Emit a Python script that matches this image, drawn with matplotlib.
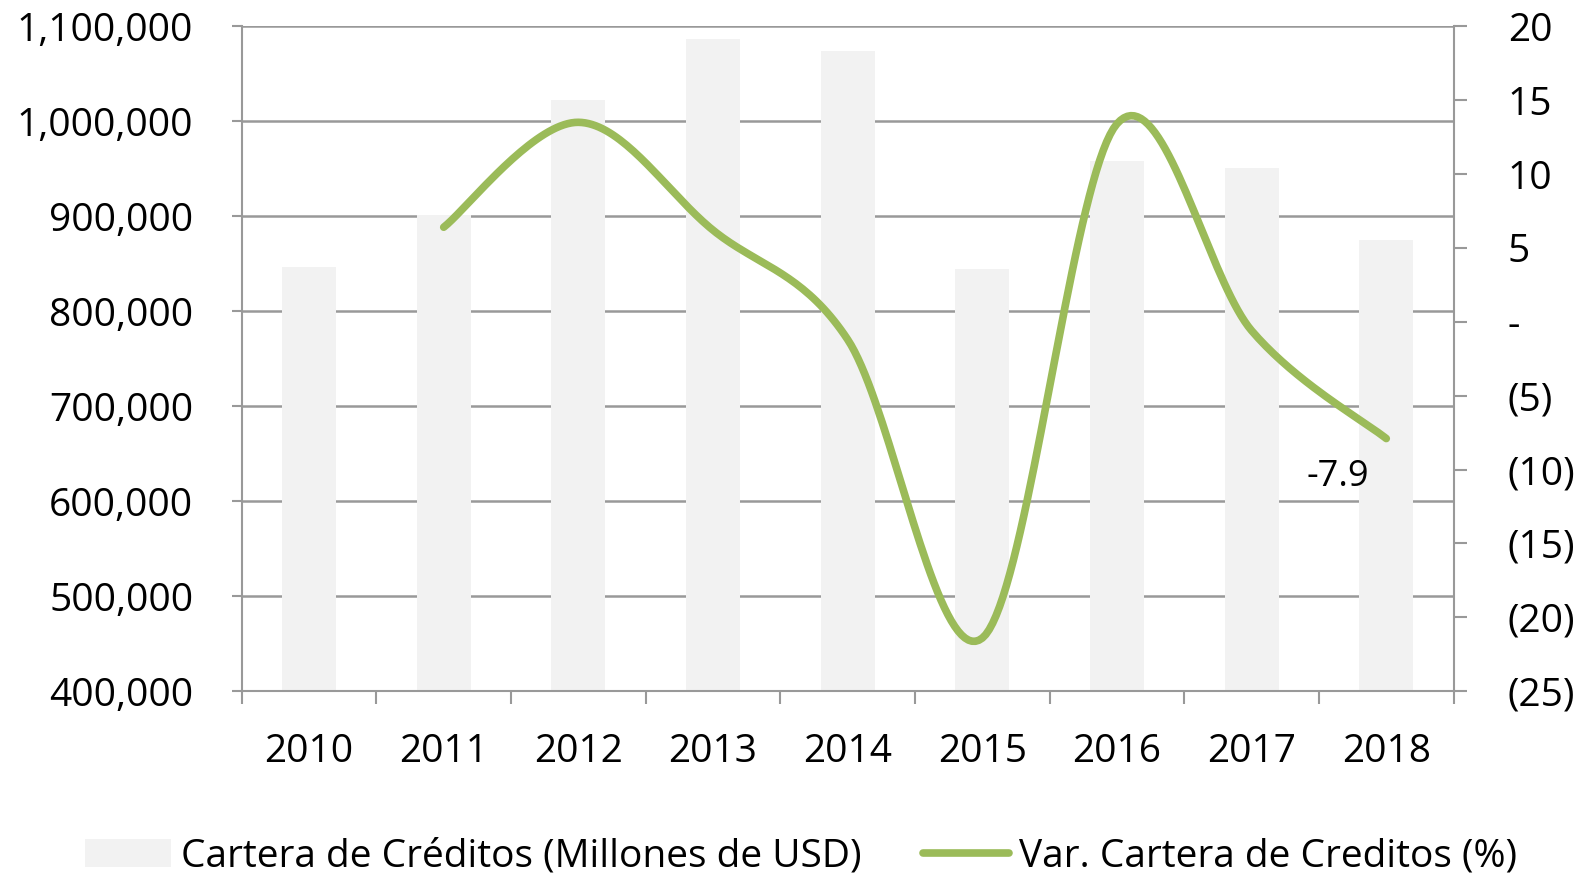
import matplotlib.pyplot as plt
import numpy as np
from matplotlib.ticker import FuncFormatter, FixedLocator

plt.rcParams['font.family'] = ['Open Sans', 'DejaVu Sans']

# Datos
anios = ['2010', '2011', '2012', '2013', '2014', '2015', '2016', '2017', '2018']
cartera = [847000, 901000, 1022000, 1087000, 1074000, 844500, 958000, 951000, 875000]
var_anios = ['2011', '2012', '2013', '2014', '2015', '2016', '2017', '2018']
variacion = [6.4, 13.5, 6.2, -1.2, -21.4, 13.4, -0.6, -7.9]

gris_barra = '#F2F2F2'
verde = '#9BBB59'
gris_eje = '#999999'


def curva_suave(xs, ys, n=40):
    # curva tipo Excel (Bezier con tangentes Catmull-Rom)
    pts = np.column_stack([xs, ys]).astype(float)
    ext = np.vstack([pts[0], pts, pts[-1]])
    out = []
    t = np.linspace(0, 1, n)[:, None]
    for i in range(len(pts) - 1):
        p0, p1, p2, p3 = ext[i], ext[i + 1], ext[i + 2], ext[i + 3]
        c1 = p1 + (p2 - p0) / 6
        c2 = p2 - (p3 - p1) / 6
        seg = ((1 - t) ** 3) * p1 + 3 * ((1 - t) ** 2) * t * c1 + 3 * (1 - t) * t ** 2 * c2 + t ** 3 * p2
        out.append(seg if i == 0 else seg[1:])
    out = np.vstack(out)
    return out[:, 0], out[:, 1]


fig = plt.figure(figsize=(15.8, 8.75), dpi=100)
ax = fig.add_axes([0.153, 0.210, 0.767, 0.760])

x = np.arange(len(anios))
ax.bar(x, cartera, width=0.40, color=gris_barra, zorder=2, label='Cartera de Créditos (Millones de USD)')
ax.set_ylim(400000, 1100000)
ax.set_yticks(np.arange(400000, 1100001, 100000))
ax.yaxis.set_major_formatter(FuncFormatter(lambda v, p: f'{int(v):,}'))
ax.set_xlim(-0.5, len(anios) - 0.5)
ax.set_xticks(x)
ax.set_xticklabels(anios)
ax.xaxis.set_minor_locator(FixedLocator(np.arange(-0.5, len(anios), 1.0)))
ax.grid(axis='y', color=gris_eje, linewidth=1.8, zorder=1)
ax.set_axisbelow(True)

for lado in ['top', 'right']:
    ax.spines[lado].set_visible(False)
for lado in ['left', 'bottom']:
    ax.spines[lado].set_color(gris_eje)
    ax.spines[lado].set_linewidth(1.5)

ax.tick_params(axis='y', direction='out', length=7, width=1.5, color=gris_eje, labelsize=28, pad=28)
ax.tick_params(axis='x', which='major', length=0, labelsize=28, pad=30)
ax.tick_params(axis='x', which='minor', direction='out', length=9, width=1.5, color=gris_eje)

ax2 = ax.twinx()
xv = [anios.index(a) for a in var_anios]
sx, sy = curva_suave(xv, variacion)
ax2.plot(sx, sy, color=verde, linewidth=5.5, solid_capstyle='round', label='Var. Cartera de Creditos (%)', zorder=5)
ax2.set_ylim(-25, 20)
ax2.set_yticks(np.arange(-25, 21, 5))


def formato_contable(v, p):
    v = int(round(v))
    if v == 0:
        return '-'
    if v < 0:
        return f'({-v})'
    return f'{v}'


ax2.yaxis.set_major_formatter(FuncFormatter(formato_contable))
for lado in ['top', 'left', 'bottom']:
    ax2.spines[lado].set_visible(False)
ax2.spines['right'].set_color(gris_eje)
ax2.spines['right'].set_linewidth(1.5)
ax2.tick_params(axis='y', direction='out', length=9, width=1.5, color=gris_eje, labelsize=28, pad=30)

# etiqueta del último valor
ax2.annotate(f'{variacion[-1]}', xy=(xv[-1], variacion[-1]), xytext=(-12, -28),
             textcoords='offset points', ha='right', va='center', fontsize=26)

h1, l1 = ax.get_legend_handles_labels()
h2, l2 = ax2.get_legend_handles_labels()
fig.legend(h1 + h2, l1 + l2, loc='center', bbox_to_anchor=(0.507, 0.021), ncol=2, frameon=False,
           fontsize=28, handlelength=2.2, handletextpad=0.25, columnspacing=1.6)

plt.savefig('out.png', dpi=100)
